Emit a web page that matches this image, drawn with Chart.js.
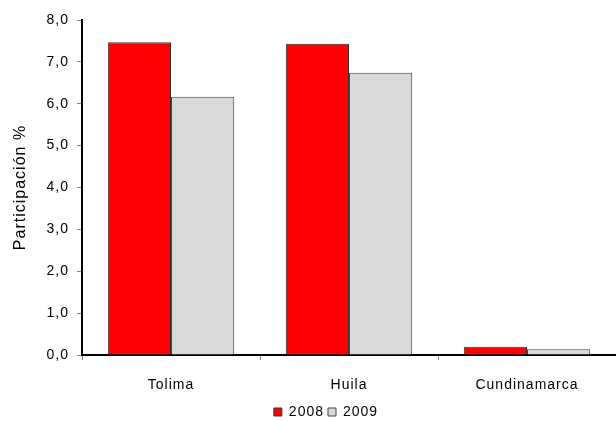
<!DOCTYPE html>
<html>
<head>
<meta charset="utf-8">
<script src="https://cdn.jsdelivr.net/npm/chart.js@4"></script>
<style>
  body { margin: 0; background: #fff; }
  #wrap { width: 616px; height: 421px; }
</style>
</head>
<body>
<div id="wrap"><canvas id="myChart" width="616" height="421"></canvas></div>
<script>
// data
const departamentos = ["Tolima", "Huila", "Cundinamarca"];
const valores2008 = [7.47, 7.43, 0.20];
const valores2009 = [6.17, 6.74, 0.14];
const yTicks = [0, 1, 2, 3, 4, 5, 6, 7, 8];

const fmt = (v) => v.toFixed(1).replace(".", ",");
const fuente = "Liberation Sans, Arial";

// the original text is a bit spread out, and the legend sits low and right
const tweaks = {
  id: "tweaks",
  beforeLayout: (chart) => { chart.ctx.letterSpacing = "1px"; },
  beforeDraw: (chart) => { chart.ctx.letterSpacing = "1px"; },
  afterLayout: (chart) => {
    chart.legend.left += 18;
    chart.legend.right += 18;
    chart.legend.top += 8;
    chart.legend.bottom += 8;
  },
};

const chart = new Chart(document.getElementById("myChart"), {
  type: "bar",
  data: {
    labels: departamentos,
    datasets: [
      {
        label: "2008",
        data: valores2008,
        backgroundColor: "#ff0000",
        borderColor: "#333333",
        borderWidth: 1,
        categoryPercentage: 0.71,
        barPercentage: 1.0,
      },
      {
        label: "2009",
        data: valores2009,
        backgroundColor: "#d9d9d9",
        borderColor: "#444444",
        borderWidth: 1,
        categoryPercentage: 0.71,
        barPercentage: 1.0,
      },
    ],
  },
  plugins: [tweaks],
  options: {
    responsive: false,
    animation: false,
    layout: { padding: { top: 20, right: 0, left: 0, bottom: 0 } },
    plugins: {
      tooltip: { enabled: false },
      legend: {
        position: "bottom",
        labels: {
          boxWidth: 8,
          boxHeight: 8,
          padding: 4,
          color: "#000",
          font: { family: fuente, size: 14 },
        },
      },
    },
    scales: {
      x: {
        grid: {
          offset: true,
          drawOnChartArea: false,
          tickLength: 5,
          color: "#808080",
        },
        border: { color: "#000", width: 2 },
        ticks: {
          color: "#000",
          padding: 17,
          font: { family: fuente, size: 14 },
        },
        afterFit: (scale) => { scale.height = 38; },
      },
      y: {
        min: 0,
        max: 8,
        afterBuildTicks: (scale) => {
          scale.ticks = yTicks.map((v) => ({ value: v }));
        },
        grid: {
          drawOnChartArea: false,
          tickLength: 5,
          color: "#808080",
        },
        border: { color: "#000", width: 2 },
        ticks: {
          color: "#000",
          padding: 8,
          font: { family: fuente, size: 14 },
          callback: (v) => fmt(v),
        },
        title: {
          display: true,
          text: "Participación %",
          color: "#000",
          padding: { top: 11, bottom: 0 },
          font: { family: fuente, size: 16 },
        },
        afterFit: (scale) => { scale.width = 82; },
      },
    },
  },
});
</script>
</body>
</html>
